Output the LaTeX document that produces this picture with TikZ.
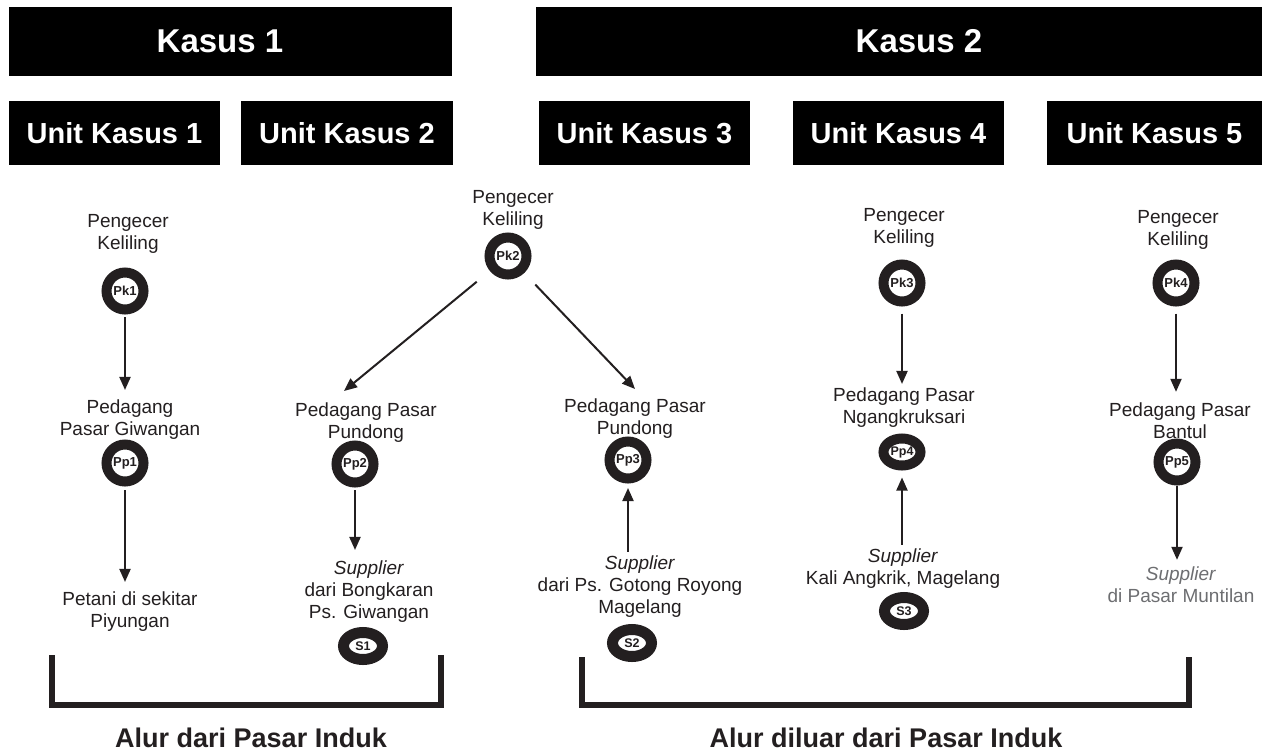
\documentclass[tikz,border=0pt]{standalone}
\usepackage{fontspec}
\setmainfont{Liberation Sans}
\usetikzlibrary{arrows.meta,shapes.geometric}
\definecolor{ink}{HTML}{231F20}
\definecolor{greytxt}{HTML}{6D6E71}
\begin{document}
\begin{tikzpicture}[x=1pt,y=-1pt,
  hdr/.style={fill=black, text=white, font=\fontsize{33}{38}\selectfont\bfseries, inner sep=0pt, minimum height=69pt},
  unit/.style={fill=black, text=white, font=\fontsize{29}{34}\selectfont\bfseries, inner sep=0pt, minimum height=64pt},
  ring/.style={circle, draw=ink, line width=10pt, fill=white, minimum size=37pt, inner sep=0pt, font=\fontsize{13}{14}\selectfont\bfseries, text=ink},
  sring/.style={ellipse, draw=ink, line width=11pt, fill=white, minimum width=39pt, minimum height=27pt, inner sep=0pt, font=\fontsize{12.5}{14}\selectfont\bfseries, text=ink},
  lbl/.style={align=center, font=\fontsize{19}{22}\selectfont, text=ink, inner sep=2pt},
  arr/.style={draw=ink, line width=2pt, -{Triangle[length=13pt,width=11pt]}},
  brk/.style={draw=ink, line width=6pt, line join=miter},
  foot/.style={font=\fontsize{27}{32}\selectfont\bfseries, text=ink, anchor=base}
]
\useasboundingbox (0,0) rectangle (1268,755);
\fill[white] (0,0) rectangle (1268,755);

% headers
\node[hdr, minimum width=443pt] (k1) at (230.5,41.5) {Kasus 1\kern21pt};
\node[hdr, minimum width=726pt] (k2) at (899,41.5) {\kern40pt Kasus 2};
\node[unit, minimum width=211pt] (u1) at (114.5,133) {Unit Kasus 1};
\node[unit, minimum width=212pt] (u2) at (347,133) {Unit Kasus 2};
\node[unit, minimum width=211pt] (u3) at (644.5,133) {Unit Kasus 3};
\node[unit, minimum width=211pt] (u4) at (898.5,133) {Unit Kasus 4};
\node[unit, minimum width=215pt] (u5) at (1154.5,133) {Unit Kasus 5};

% rings
\node[ring] (pk1) at (125,291) {Pk1};
\node[ring] (pk2) at (508,256) {Pk2};
\node[ring] (pk3) at (902,283) {Pk3};
\node[ring] (pk4) at (1176,283) {Pk4};
\node[ring] (pp1) at (125,463) {Pp1};
\node[ring] (pp2) at (355,464) {Pp2};
\node[ring] (pp3) at (628,460) {Pp3};
\node[sring, minimum width=37pt, minimum height=27pt, line width=10pt] (pp4) at (902,452) {Pp4};
\node[ring] (pp5) at (1177,462) {Pp5};
\node[sring] (s1) at (363,646) {S1};
\node[sring] (s2) at (632,643) {S2};
\node[sring] (s3) at (904,611) {S3};

% labels
\node[lbl] (pk1l) at (128,233.5) {Pengecer\\Keliling};
\node[lbl] (pk2l) at (513,210) {Pengecer\\Keliling};
\node[lbl] (pk3l) at (904,228) {Pengecer\\Keliling};
\node[lbl] (pk4l) at (1178,230) {Pengecer\\Keliling};
\node[lbl] (pp1l) at (130,420) {Pedagang\\Pasar Giwangan};
\node[lbl] (pp2l) at (366,422.5) {Pedagang Pasar\\Pundong};
\node[lbl] (pp3l) at (635,419) {Pedagang Pasar\\Pundong};
\node[lbl] (pp4l) at (904,408) {Pedagang Pasar\\Ngangkruksari};
\node[lbl] (pp5l) at (1180,420.5) {Pedagang Pasar\\Bantul};
\node[lbl] (pet) at (130,611.5) {Petani di sekitar\\Piyungan};
\node[lbl] (s1l) at (369,592) {\textit{Supplier}\\dari Bongkaran\\Ps. Giwangan};
\node[lbl] (s2l) at (640,587) {\textit{Supplier}\\dari Ps. Gotong Royong\\Magelang};
\node[lbl] (s3l) at (903,569) {\textit{Supplier}\\Kali Angkrik, Magelang};
\node[lbl, text=greytxt] (mun) at (1181,585) {\textit{Supplier}\\di Pasar Muntilan};

% arrows
\coordinate (t2) at (344,391);
\coordinate (t3) at (635,389);
\draw[arr, shorten <=2.5pt, shorten >=8pt] (pk1) -- (pk1 |- pp1l.north);
\draw[arr, shorten <=3.5pt, shorten >=7.5pt] (pp1) -- (pp1 |- pet.north);
\draw[arr, shorten <=17pt] (pk2) -- (t2);
\draw[arr, shorten <=16pt] (pk2) -- (t3);
\draw[arr, shorten <=2.5pt, shorten >=9pt] (pp2) -- (pp2 |- s1l.north);
\draw[arr, shorten <=2pt, shorten >=4.5pt] (s2l.north -| pp3) -- (pp3);
\draw[arr, shorten <=2pt, shorten >=7pt] (s3l.north -| pp4) -- (pp4);
\draw[arr, shorten <=7pt, shorten >=2pt] (pk3) -- (pk3 |- pp4l.north);
\draw[arr, shorten <=7pt, shorten >=8.5pt] (pk4) -- (pk4 |- pp5l.north);
\draw[arr, shorten <=0pt, shorten >=5pt] (pp5) -- (pp5 |- mun.north);

% brackets
\draw[brk] (52,655) -- (52,705) -- (441,705) -- (441,655);
\draw[brk] (582,657) -- (582,705) -- (1189,705) -- (1189,657);
\node[foot] (f1) at (251,747) {Alur dari Pasar Induk};
\node[foot] (f2) at (886,747) {Alur diluar dari Pasar Induk};
\end{tikzpicture}
\end{document}
